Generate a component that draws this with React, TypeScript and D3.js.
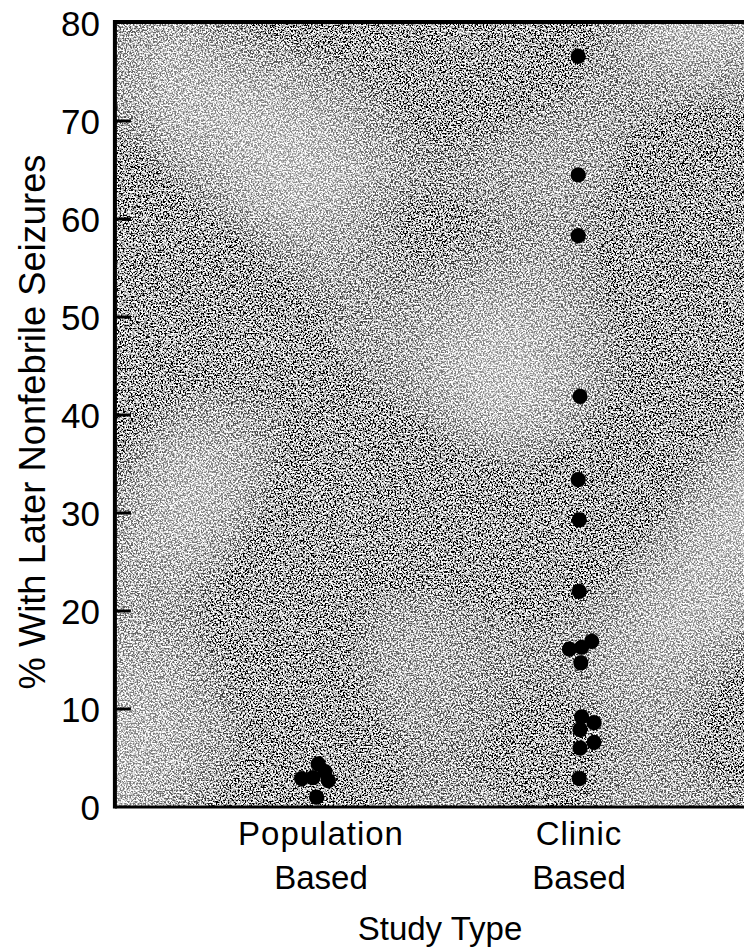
import React from "react";
import * as d3 from "d3";

const categories = ["Population\nBased", "Clinic\nBased"];
const yTicks = [0, 10, 20, 30, 40, 50, 60, 70, 80];

// Population-based studies: % with later nonfebrile seizures, and horizontal jitter (category units)
const populationValues = [4.4, 3.6, 3.0, 2.9, 2.7, 1.0];
const populationJitter = [-0.003, 0.023, -0.023, -0.067, 0.036, -0.009];

// Clinic-based studies
const clinicValues = [76.6, 64.5, 58.3, 41.9, 33.4, 29.3, 22.0, 16.1, 16.3, 16.9, 14.7, 9.2, 8.6, 7.9, 6.6, 6.0, 2.9];
const clinicJitter = [-0.003, -0.003, -0.003, 0.004, -0.003, 0.001, 0.001, -0.037, 0.010, 0.049, 0.007, 0.010, 0.058, 0.004, 0.058, 0.004, 0.001];

const W = 744;
const H = 950;

export default function App() {
  const y = d3.scaleLinear().domain([0, 80]).range([807, 23]);
  const x = d3.scaleLinear().domain([0, 1]).range([319, 579]);
  const left = x(-0.785);
  const right = x(1.8);

  const points = [
    ...populationValues.map((v, i) => ({ cx: x(0 + populationJitter[i]), cy: y(v) })),
    ...clinicValues.map((v, i) => ({ cx: x(1 + clinicJitter[i]), cy: y(v) })),
  ];

  const font = "'Liberation Sans', Arial, sans-serif";
  const labelSpacing = [[1, 0], [1, 0]];

  return (
    <svg
      width={W}
      height={H}
      viewBox={`0 0 ${W} ${H}`}
      style={{ position: "absolute", left: 0, top: 0, background: "#fff" }}
    >
      <defs>
        <filter id="grain" x="0" y="0" width="100%" height="100%" filterUnits="objectBoundingBox">
          <feTurbulence type="fractalNoise" baseFrequency="0.6" numOctaves="2" seed="7" result="fine" />
          <feColorMatrix
            in="fine"
            type="matrix"
            values="0 0 0 0 0  0 0 0 0 0  0 0 0 0 0  4.5 0 0 0 -1.72"
            result="dots"
          />
          <feTurbulence type="fractalNoise" baseFrequency="0.005" numOctaves="1" seed="3" result="coarse" />
          <feColorMatrix
            in="coarse"
            type="matrix"
            values="0 0 0 0 1  0 0 0 0 1  0 0 0 0 1  -1.2 0 0 0 0.64"
            result="light"
          />
          <feFlood floodColor="#ffffff" result="white" />
          <feMerge>
            <feMergeNode in="white" />
            <feMergeNode in="dots" />
            <feMergeNode in="light" />
          </feMerge>
        </filter>
      </defs>

      {/* textured plot background */}
      <rect x={left} y={y(80)} width={right - left} height={y(0) - y(80)} fill="#a0a0a0" filter="url(#grain)" />

      {/* frame */}
      <line x1={left} x2={right} y1={y(80) - 1} y2={y(80) - 1} stroke="#000" strokeWidth={4} />
      <line x1={left} x2={right} y1={y(0)} y2={y(0)} stroke="#000" strokeWidth={3} />
      <line x1={left} x2={left} y1={y(80) - 3} y2={y(0) + 1.5} stroke="#000" strokeWidth={4} />

      {/* inward y ticks */}
      {yTicks.filter((t) => t > 0 && t < 80).map((t) => (
        <line key={`t${t}`} x1={left} x2={left + 16} y1={y(t)} y2={y(t)} stroke="#000" strokeWidth={3} />
      ))}

      {/* tick labels */}
      {yTicks.map((t) => (
        <text
          key={`l${t}`}
          x={100}
          y={y(t)}
          dy="0.36em"
          textAnchor="end"
          fontFamily={font}
          fontSize={35}
          fill="#000"
        >
          {t}
        </text>
      ))}

      {/* y title */}
      <text
        transform={`translate(45, 422) rotate(-90)`}
        textAnchor="middle"
        fontFamily={font}
        fontSize={36}
        textLength={535}
        lengthAdjust="spacingAndGlyphs"
        fill="#000"
      >
        % With Later Nonfebrile Seizures
      </text>

      {/* category labels */}
      {categories.map((c, i) => {
        const lines = c.split("\n");
        const cx = i === 0 ? x(i) + 2 : x(i);
        return lines.map((ln, j) => (
          <text
            key={`c${i}-${j}`}
            x={cx}
            y={845 + j * 44}
            textAnchor="middle"
            fontFamily={font}
            fontSize={33}
            letterSpacing={labelSpacing[i][j]}
            fill="#000"
          >
            {ln}
          </text>
        ));
      })}

      {/* x title */}
      <text
        x={440}
        y={940}
        textAnchor="middle"
        fontFamily={font}
        fontSize={33}
        fill="#000"
      >
        Study Type
      </text>

      {/* data points */}
      {points.map((p, i) => (
        <circle key={`p${i}`} cx={p.cx} cy={p.cy} r={7.6} fill="#000" />
      ))}
    </svg>
  );
}
